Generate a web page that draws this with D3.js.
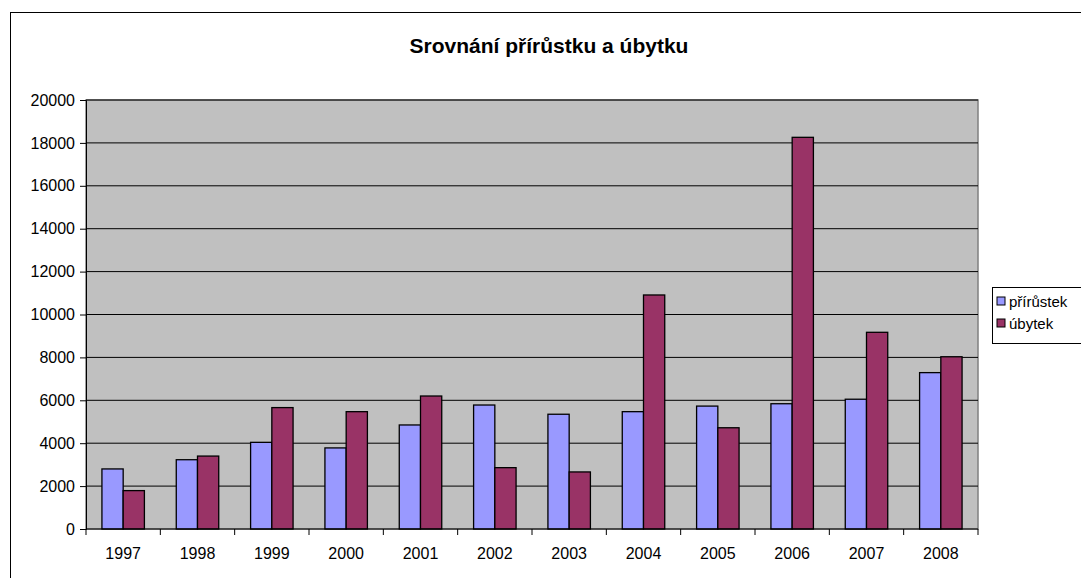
<!DOCTYPE html>
<html>
<head>
<meta charset="utf-8">
<script src="https://cdn.jsdelivr.net/npm/d3@7"></script>
<style>
  body { margin: 0; background: #fff; }
  svg { display: block; font-family: "Liberation Sans", Arial, sans-serif; }
</style>
</head>
<body>
<svg id="chart" width="1081" height="578"></svg>
<script>
var years = ["1997", "1998", "1999", "2000", "2001", "2002", "2003", "2004", "2005", "2006", "2007", "2008"];
var seriesNames = ["přírůstek", "úbytek"];
var prirustek = [2800, 3230, 4040, 3780, 4850, 5780, 5350, 5470, 5730, 5840, 6050, 7290];
var ubytek = [1790, 3400, 5660, 5470, 6200, 2860, 2660, 10910, 4720, 18260, 9170, 8030];
var yTicks = [0, 2000, 4000, 6000, 8000, 10000, 12000, 14000, 16000, 18000, 20000];
var colors = ["#9999ff", "#993366"];

var svg = d3.select("#chart");
var plot = { left: 86, top: 100, right: 978, bottom: 529 };

// chart frame
svg.append("rect")
  .attr("x", 10.5).attr("y", 12.5)
  .attr("width", 1100).attr("height", 600)
  .attr("fill", "#fff").attr("stroke", "#000").attr("stroke-width", 1);

svg.append("text")
  .attr("x", 549).attr("y", 53)
  .attr("text-anchor", "middle")
  .attr("font-size", 21).attr("font-weight", "bold")
  .text("Srovnání přírůstku a úbytku");

var x = d3.scaleBand().domain(years).range([plot.left, plot.right]);
var x1 = d3.scaleBand().domain(seriesNames)
  .range([0, x.bandwidth()]).paddingOuter(0.75).paddingInner(0);
var y = d3.scaleLinear().domain([0, 20000]).range([plot.bottom, plot.top]);

svg.append("rect")
  .attr("x", plot.left).attr("y", plot.top)
  .attr("width", plot.right - plot.left).attr("height", plot.bottom - plot.top)
  .attr("fill", "#c0c0c0").attr("stroke", "#808080").attr("stroke-width", 1.5);

// gridlines
svg.append("g").selectAll("line")
  .data(yTicks.slice(1))
  .join("line")
  .attr("x1", plot.left).attr("x2", plot.right)
  .attr("y1", d => y(d)).attr("y2", d => y(d))
  .attr("stroke", "#000").attr("stroke-width", 1);

var series = [prirustek, ubytek];
var groups = svg.append("g").selectAll("g")
  .data(years)
  .join("g")
  .attr("transform", d => "translate(" + x(d) + ",0)");

groups.selectAll("rect")
  .data((d, i) => series.map((s, k) => ({ name: seriesNames[k], value: s[i], k: k })))
  .join("rect")
  .attr("x", d => x1(d.name))
  .attr("width", x1.bandwidth())
  .attr("y", d => y(d.value))
  .attr("height", d => plot.bottom - y(d.value))
  .attr("fill", d => colors[d.k])
  .attr("stroke", "#000").attr("stroke-width", 1.3);

// y axis
var yAxis = svg.append("g")
  .attr("transform", "translate(" + plot.left + ",0)")
  .call(d3.axisLeft(y).tickValues(yTicks).tickSize(6).tickPadding(5).tickFormat(d3.format("d")));
yAxis.select(".domain").attr("stroke", "#000");
yAxis.selectAll("text").attr("font-size", 16).attr("fill", "#000").attr("font-family", "Liberation Sans, Arial, sans-serif");

// x axis: ticks at category boundaries
var xAxis = svg.append("g").attr("transform", "translate(0," + plot.bottom + ")");
xAxis.append("line")
  .attr("x1", plot.left).attr("x2", plot.right)
  .attr("stroke", "#000");
xAxis.selectAll("line.tick")
  .data(years.concat(["end"]))
  .join("line")
  .attr("class", "tick")
  .attr("x1", (d, i) => i < years.length ? x(d) : plot.right)
  .attr("x2", (d, i) => i < years.length ? x(d) : plot.right)
  .attr("y1", 0).attr("y2", 6)
  .attr("stroke", "#000");
xAxis.selectAll("text")
  .data(years)
  .join("text")
  .attr("x", d => x(d) + x.bandwidth() / 2)
  .attr("y", 30)
  .attr("text-anchor", "middle")
  .attr("font-size", 16)
  .text(d => d);

// legend
var legend = svg.append("g");
legend.append("rect")
  .attr("x", 992.5).attr("y", 287.5)
  .attr("width", 90).attr("height", 56)
  .attr("fill", "#fff").attr("stroke", "#000");
var li = legend.selectAll("g")
  .data(seriesNames)
  .join("g")
  .attr("transform", (d, i) => "translate(997," + (302 + i * 22) + ")");
li.append("rect")
  .attr("x", 0).attr("y", -5).attr("width", 8).attr("height", 8)
  .attr("fill", (d, i) => colors[i]).attr("stroke", "#000");
li.append("text")
  .attr("x", 12).attr("y", 5)
  .attr("font-size", 15)
  .text(d => d);
</script>
</body>
</html>
